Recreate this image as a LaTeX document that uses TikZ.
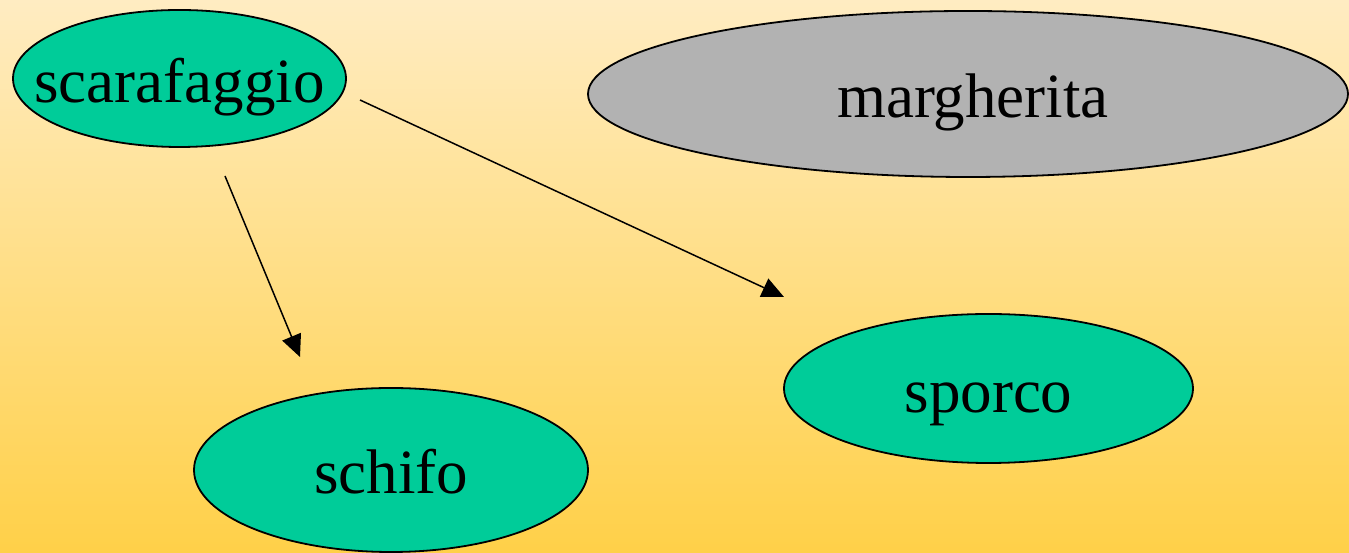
\documentclass[tikz,border=0pt]{standalone}
\usepackage{fontspec}
\setmainfont{Liberation Serif}
\usetikzlibrary{shapes.geometric,arrows.meta}
\definecolor{bgtop}{RGB}{255,236,194}
\definecolor{bgbottom}{RGB}{255,208,72}
\definecolor{leaf}{RGB}{0,204,153}
\definecolor{stone}{RGB}{178,178,178}
\newcommand{\blobtext}[2][0pt]{\makebox[0pt][c]{\hspace{#1}#2}}
\tikzset{
  blob/.style={ellipse, draw=black, line width=1.8pt, inner sep=0pt,
    text height=52pt, text depth=4pt,
    font=\fontsize{63}{70}\selectfont},
  link/.style={line width=1.5pt, -{Triangle[length=22pt,width=20pt]}}
}
\begin{document}
\begin{tikzpicture}[x=1pt,y=1pt]
  \useasboundingbox (0,0) rectangle (1349,553);
  \shade[top color=bgtop, bottom color=bgbottom] (0,0) rectangle (1349,553);
  \begin{scope}
    \clip (0,0) rectangle (1349,553);
    \node[blob, fill=leaf, minimum width=333pt, minimum height=137pt] (scar) at (179.5,474.5) {\blobtext{scarafaggio}};
    \node[blob, fill=stone, minimum width=760pt, minimum height=166pt] (marg) at (968,459) {\blobtext[10pt]{margherita}};
    \node[blob, fill=leaf, minimum width=394pt, minimum height=164pt] (schifo) at (391,83) {\blobtext{schifo}};
    \node[blob, fill=leaf, minimum width=409pt, minimum height=149pt] (sporco) at (988.5,164.5) {\blobtext{sporco}};
  \end{scope}
  \coordinate (a1s) at (225,377);
  \coordinate (a1e) at (300,196);
  \coordinate (a2s) at (360,453);
  \coordinate (a2e) at (784,256);
  \draw[link] (a1s) -- (a1e);
  \draw[link] (a2s) -- (a2e);
\end{tikzpicture}
\end{document}
